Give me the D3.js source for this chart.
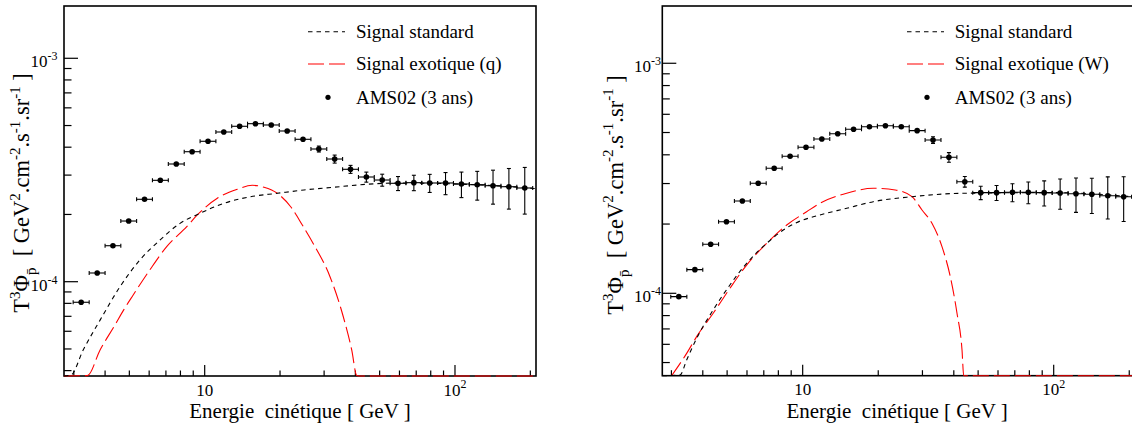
<!DOCTYPE html>
<html><head><meta charset="utf-8">
<script src="https://cdn.jsdelivr.net/npm/d3@7"></script>
<style>
body{margin:0;background:#fff;}
svg{display:block;}
svg text{font-family:'Liberation Serif','Times New Roman',Times,'DejaVu Serif',serif;fill:#000;white-space:pre;}
</style>
</head><body>
<svg id="chart" width="1132" height="427" font-family="'Liberation Serif','Times New Roman',Times,'DejaVu Serif',serif"></svg>
<script>
// ---------- DATA ----------
// AMS02 (3 ans) projected data: kinetic energy bin centres [GeV]
const energy = [3.21,3.72,4.30,4.97,5.75,6.65,7.70,8.91,10.31,11.92,13.79,15.95,18.45,21.36,24.71,28.58,33.06,38.25,44.25,51.19,59.21,68.50,79.24,91.66,106.1,122.7,141.9,164.2,190.0];
// left panel (q): T^3 flux and errors, in units of 1e-4
const fluxQ = [0.809,1.094,1.449,1.869,2.338,2.843,3.364,3.818,4.251,4.678,4.962,5.097,5.029,4.727,4.339,3.926,3.541,3.185,2.942,2.852,2.757,2.775,2.766,2.766,2.737,2.718,2.690,2.662,2.627];
const errQ  = [0.010,0.012,0.015,0.020,0.025,0.030,0.035,0.040,0.045,0.050,0.055,0.060,0.065,0.070,0.080,0.120,0.146,0.131,0.152,0.176,0.199,0.220,0.257,0.314,0.358,0.400,0.466,0.549,0.620];
// right panel (W)
const fluxW = [0.967,1.267,1.633,2.048,2.519,3.008,3.496,3.941,4.313,4.687,4.942,5.164,5.300,5.354,5.300,5.093,4.639,3.902,3.056,2.738,2.738,2.749,2.749,2.738,2.730,2.710,2.694,2.656,2.630];
const errW  = [0.012,0.015,0.018,0.022,0.026,0.030,0.035,0.040,0.045,0.050,0.055,0.060,0.065,0.070,0.080,0.100,0.153,0.187,0.162,0.183,0.205,0.247,0.297,0.342,0.410,0.461,0.471,0.552,0.579];

// Signal standard, left panel (E [GeV], value in 1e-5)
const stdQ_E = [2.74,2.92,3.27,3.82,4.59,5.51,6.63,7.97,9.58,11.94,15.27,19.5,24.93,32.55,44.4,59.2,100,211];
const stdQ_V = [3.30,3.82,4.95,6.73,9.50,12.51,15.37,18.25,20.24,22.44,24.02,24.87,25.73,26.46,27.29,27.66,27.40,26.10];
// Signal exotique (q), left panel
const exoQ_E = [2.74,3.40,3.82,4.38,4.76,5.18,6.07,7.05,8.48,9.34,11.23,13.50,15.49,17.26,19.50,22.06,24.55,27.16,31.67,35.79,38.67,40.5,41.2,50,100,211];
const exoQ_V = [2.33,3.80,4.95,6.40,7.52,8.72,11.4,14.35,17.63,19.89,23.62,25.92,27.01,26.46,24.87,21.66,17.94,14.80,10.53,6.97,4.95,3.80,0,0,0,0];
// Signal standard, right panel
const stdW_E = [2.76,3.245,3.45,3.78,4.40,5.13,5.98,7.19,8.37,9.75,11.02,14.97,19.11,27.26,43.1,100,205];
const stdW_V = [2.96,4.41,5.13,6.37,8.46,10.87,13.50,16.50,18.84,20.60,21.50,23.42,25.02,26.30,27.22,27.40,26.30];
// Signal exotique (W), right panel
const exoW_E = [3.01,3.45,3.78,4.40,5.13,5.98,7.19,8.64,10.37,11.72,14.97,19.11,23.38,27.26,29.88,32.74,35.89,38.73,41.19,43.13,43.8,44.3,50,100,205];
const exoW_V = [4.39,5.48,6.48,8.19,10.51,13.27,16.50,19.82,22.63,24.62,27.22,28.61,28.12,26.30,23.02,20.16,15.95,11.81,8.19,5.67,4.39,0,0,0,0];

const legendQ = ["Signal standard","Signal exotique (q)","AMS02 (3 ans)"];
const legendW = ["Signal standard","Signal exotique (W)","AMS02 (3 ans)"];
const xTickLabels = [{v:10,t:[["10"]]},{v:100,t:[["10"],["2","sup"]]}];
const yTickLabels = [{v:1e-4,t:[["10"],["-4","sup"]]},{v:1e-3,t:[["10"],["-3","sup"]]}];
const xTitle = "Energie  cinétique [ GeV ]";
const yTitle = [["T"],["3","sup"],["Φ"],["p̄","sub"],["  [ GeV"],["2","sup"],[".cm"],["-2","sup"],[".s"],["-1","sup"],[".sr"],["-1","sup"],[" ]"]];

// ---------- LAYOUT ----------
const panels = [
  {x0:64, x1:536, y0:6, y1:376, xDom:[2.741,210.7], yDom:[3.784e-5,1.714e-3], frameRight:536,
   flux:fluxQ, err:errQ, sE:stdQ_E, sV:stdQ_V, eE:exoQ_E, eV:exoQ_V, legend:legendQ,
   legX:308, legTextX:356, yLabX:57.5, yTitleX:29, yTitleY:193},
  {x0:662.3, x1:1132, y0:6, y1:375.7, xDom:[2.759,205.1], yDom:[4.383e-5,1.774e-3], frameRight:1134,
   flux:fluxW, err:errW, sE:stdW_E, sV:stdW_V, eE:exoW_E, eV:exoW_V, legend:legendW,
   legX:907, legTextX:954.7, yLabX:661, yTitleX:622.5, yTitleY:195}
];

const FONT = "'Liberation Serif','Times New Roman',Times,'DejaVu Serif',serif";
const svg = d3.select("#chart");

function richText(sel, segs, size, supSize){
  let shift = 0;
  segs.forEach(([t, kind])=>{
    const ts = sel.append("tspan").text(t);
    let target = 0;
    if(kind==="sup"){ target = -size*0.42; ts.attr("font-size", supSize); }
    else if(kind==="sub"){ target = size*0.3; ts.attr("font-size", supSize); }
    const dy = target - shift;
    if(dy!==0) ts.attr("dy", dy);
    shift = target;
  });
}
function txt(g){ return g.append("text").attr("font-family",FONT).attr("fill","#000"); }

panels.forEach(p=>{
  const x = d3.scaleLog().domain(p.xDom).range([p.x0, p.x1]);
  const y = d3.scaleLog().domain(p.yDom).range([p.y1, p.y0]).clamp(true);
  const yv = v => v>0 ? y(v) : p.y1;
  const g = svg.append("g");

  const clipId = "clip"+Math.round(p.x0);
  svg.append("clipPath").attr("id",clipId).append("rect")
     .attr("x",p.x0).attr("y",p.y0-1).attr("width",p.x1-p.x0).attr("height",p.y1-p.y0+2);

  // frame
  g.append("rect").attr("x",p.x0).attr("y",p.y0).attr("width",p.frameRight-p.x0).attr("height",p.y1-p.y0)
    .attr("fill","none").attr("stroke","#000").attr("stroke-width",1.6);

  // y ticks
  y.ticks().forEach(t=>{
    const major = Math.abs(Math.log10(t)-Math.round(Math.log10(t)))<1e-9;
    g.append("line").attr("x1",p.x0).attr("x2",p.x0+(major?14:7.5))
      .attr("y1",y(t)).attr("y2",y(t)).attr("stroke","#000").attr("stroke-width",1.2);
  });
  // x ticks
  x.ticks().forEach(t=>{
    const major = Math.abs(Math.log10(t)-Math.round(Math.log10(t)))<1e-9;
    g.append("line").attr("x1",x(t)).attr("x2",x(t))
      .attr("y1",p.y1).attr("y2",p.y1-(major?11:5.5)).attr("stroke","#000").attr("stroke-width",1.2);
  });
  // tick labels
  xTickLabels.forEach(d=>{
    const tx = txt(g).attr("x",x(d.v)).attr("y",p.y1+19.5).attr("text-anchor","middle").attr("font-size",17);
    richText(tx, d.t, 17, 12);
  });
  yTickLabels.forEach(d=>{
    const tx = txt(g).attr("x",p.yLabX).attr("y",y(d.v)+9).attr("text-anchor","end").attr("font-size",17);
    richText(tx, d.t, 17, 12);
  });
  // axis titles
  txt(g).attr("x",(p.x0+p.x1)/2).attr("y",417.5).attr("text-anchor","middle").attr("font-size",21).text(xTitle);
  const yt = txt(g).attr("transform",`translate(${p.yTitleX},${p.yTitleY}) rotate(-90)`)
     .attr("text-anchor","middle").attr("font-size",22.5);
  richText(yt, yTitle, 22.5, 15);

  const plot = svg.append("g").attr("clip-path",`url(#${clipId})`);

  // data points with error bars (bin edges at geometric midpoints)
  const lo = energy.map((e,i)=> i>0 ? Math.sqrt(e*energy[i-1]) : e/Math.sqrt(energy[1]/energy[0]));
  const hi = energy.map((e,i)=> i<energy.length-1 ? Math.sqrt(e*energy[i+1]) : e*Math.sqrt(energy[i]/energy[i-1]));
  energy.forEach((e,i)=>{
    const v = p.flux[i]*1e-4, er = p.err[i]*1e-4;
    const cx = x(e), cy = y(v);
    const gg = plot.append("g").attr("stroke","#000").attr("stroke-width",1.1);
    gg.append("line").attr("x1",x(lo[i])).attr("x2",x(hi[i])).attr("y1",cy).attr("y2",cy);
    gg.append("line").attr("x1",x(lo[i])).attr("x2",x(lo[i])).attr("y1",cy-2).attr("y2",cy+2);
    gg.append("line").attr("x1",x(hi[i])).attr("x2",x(hi[i])).attr("y1",cy-2).attr("y2",cy+2);
    const yt1 = y(v+er), yb1 = y(v-er);
    if(yb1-yt1>5){
      gg.append("line").attr("x1",cx).attr("x2",cx).attr("y1",yt1).attr("y2",yb1);
      gg.append("line").attr("x1",cx-2).attr("x2",cx+2).attr("y1",yt1).attr("y2",yt1);
      gg.append("line").attr("x1",cx-2).attr("x2",cx+2).attr("y1",yb1).attr("y2",yb1);
    }
    plot.append("circle").attr("cx",cx).attr("cy",cy).attr("r",2.8).attr("fill","#000");
  });

  // curves
  const line = d3.line().curve(d3.curveMonotoneX);
  const stdPts = p.sE.map((e,i)=>[x(e), yv(p.sV[i]*1e-5)]);
  const exoPts = p.eE.map((e,i)=>[x(e), yv(p.eV[i]*1e-5)]);
  svg.append("path").attr("d",line(exoPts)).attr("fill","none").attr("stroke","#ff0000")
     .attr("stroke-width",1.1).attr("stroke-dasharray","16,5");
  svg.append("path").attr("d",line(stdPts)).attr("fill","none").attr("stroke","#000")
     .attr("stroke-width",1.1).attr("stroke-dasharray","4.5,4");

  // legend
  const rows = [31.7, 64, 97.3];
  const lg = svg.append("g");
  lg.append("line").attr("x1",p.legX).attr("x2",p.legX+37).attr("y1",rows[0]).attr("y2",rows[0])
    .attr("stroke","#000").attr("stroke-width",1.1).attr("stroke-dasharray","4.5,4");
  lg.append("line").attr("x1",p.legX).attr("x2",p.legX+37).attr("y1",rows[1]).attr("y2",rows[1])
    .attr("stroke","#ff0000").attr("stroke-width",1.1).attr("stroke-dasharray","16,5");
  lg.append("circle").attr("cx",p.legX+20).attr("cy",rows[2]).attr("r",2.6).attr("fill","#000");
  p.legend.forEach((t,i)=>{
    txt(lg).attr("x",p.legTextX).attr("y",rows[i]+6.3).attr("font-size",19).text(t);
  });
});
</script>
</body></html>
